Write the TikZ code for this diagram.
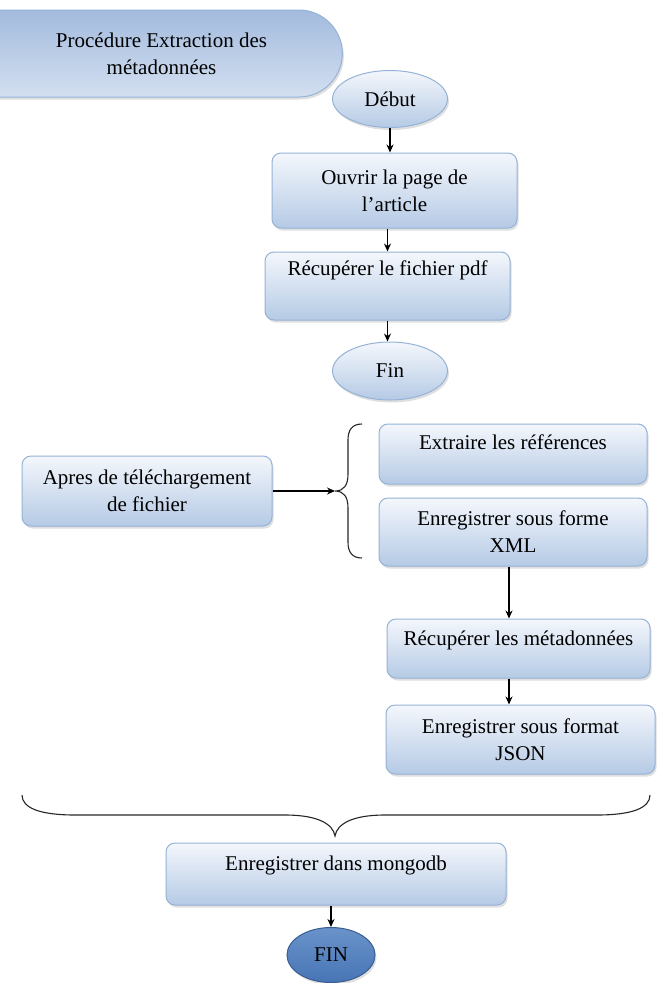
\documentclass[tikz,border=0pt]{standalone}
\usepackage{fontspec}
\setmainfont{Liberation Serif}
\usetikzlibrary{arrows.meta,shapes.geometric,shapes.misc,shadows}
\definecolor{boxtop}{HTML}{F4F7FC}
\definecolor{boxbot}{HTML}{B5CAE5}
\definecolor{boxline}{HTML}{95B3D7}
\definecolor{titretop}{HTML}{A3BBDE}
\definecolor{titrebot}{HTML}{D3DFF0}
\definecolor{fintop}{HTML}{6A93CA}
\definecolor{finbot}{HTML}{4775B5}

\begin{document}
\begin{tikzpicture}[x=1pt,y=-1pt,>={Stealth[length=8pt,width=7pt]},
font=\fontsize{21}{27}\selectfont,
ombre/.style={drop shadow={opacity=.25,shadow xshift=1.5pt,shadow yshift=-2.5pt}},
etape/.style={rectangle, rounded corners=9pt, draw=boxline, line width=1pt,
  top color=boxtop, bottom color=boxbot, align=center, inner sep=0pt, ombre},
bout/.style={ellipse, draw=boxline, line width=1pt,
  top color=boxtop, bottom color=boxbot, inner sep=0pt, ombre},
titre/.style={rounded rectangle, rounded rectangle left arc=none, draw=boxline,
  line width=1pt, top color=titretop, bottom color=titrebot, align=center, ombre},
fleche/.style={->, line width=1.1pt},
accolade/.style={line width=1.1pt, black!85}]

\useasboundingbox (0,0) rectangle (667,983);

\node[titre, minimum width=363pt, minimum height=87pt] (titre) at (161.5,53.5) {Procédure Extraction des\\métadonnées};

\node[bout, minimum width=115pt, minimum height=57pt] (debut) at (390,99) {Début};
\node[etape, minimum width=245pt, minimum height=75pt] (ouvrir) at (394.5,190.5) {Ouvrir la page de\\l’article};
\node[etape, minimum width=245pt, minimum height=68pt] (pdf) at (387.5,286) {Récupérer le fichier pdf\\\strut};
\node[bout, minimum width=115pt, minimum height=58pt] (fin) at (390,371) {Fin};

\draw[fleche] (debut.south) -- (debut.south |- ouvrir.north);
\draw[fleche] (ouvrir.south -| pdf) -- (pdf.north);
\draw[fleche] (pdf.south) -- (pdf.south |- fin.north);

\node[etape, minimum width=250pt, minimum height=70pt] (apres) at (147,491) {Apres de téléchargement\\de fichier};
\coordinate (pointe) at (335,491);
\draw[accolade] (362,424) .. controls (352,424) and (348,430) .. (348,440) -- (348,474)
  .. controls (348,485) and (344,491) .. (pointe)
  .. controls (344,491) and (348,497) .. (348,508) -- (348,542)
  .. controls (348,552) and (352,558) .. (362,558);
\draw[fleche] (apres.east) -- (pointe);

\node[etape, minimum width=268pt, minimum height=60pt] (extraire) at (513,454) {Extraire les références\\[-12pt]\strut};
\node[etape, minimum width=268pt, minimum height=68pt] (xml) at (513,532) {Enregistrer sous forme\\XML};
\node[etape, minimum width=263pt, minimum height=59pt] (meta) at (518.5,648.5) {Récupérer les métadonnées\\[-14pt]\strut};
\node[etape, minimum width=269pt, minimum height=69pt] (json) at (520.5,739.5) {Enregistrer sous format\\JSON};

\coordinate (col) at (509,0);
\draw[fleche] (xml.south -| col) -- (meta.north -| col);
\draw[fleche] (meta.south -| col) -- (json.north -| col);

\coordinate (bas) at (335,836);
\draw[accolade] (22,795) .. controls (22,808) and (40,815) .. (75,815) -- (285,815)
  .. controls (318,815) and (333,824) .. (bas)
  .. controls (337,824) and (352,815) .. (385,815) -- (597,815)
  .. controls (632,815) and (650,808) .. (650,795);

\node[etape, minimum width=340pt, minimum height=62pt] (mongo) at (336,874) {Enregistrer dans mongodb\\[-13pt]\strut};
\node[bout, draw=finbot!80!black, top color=fintop, bottom color=finbot, minimum width=88pt, minimum height=55pt] (FIN) at (331,955) {FIN};

\draw[fleche] (mongo.south -| FIN.north) -- (FIN.north);

\end{tikzpicture}
\end{document}
